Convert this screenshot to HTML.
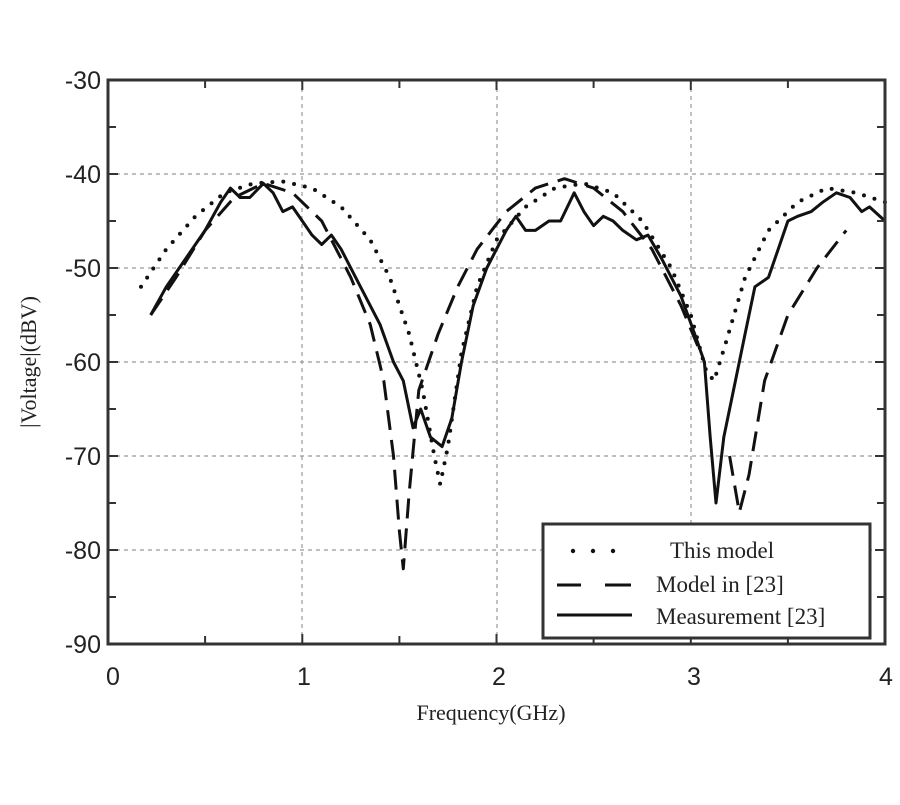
<!DOCTYPE html>
<html><head><meta charset="utf-8"><style>
body{margin:0;background:#fff;width:900px;height:800px;overflow:hidden}
.sa{font-family:"Liberation Sans",sans-serif}
.se{font-family:"Liberation Serif",serif}
</style></head><body>
<svg width="900" height="800" xmlns="http://www.w3.org/2000/svg">
<g stroke="#999" stroke-width="1.2" stroke-dasharray="4,4">
<line x1="302" y1="80" x2="302" y2="644"/><line x1="497" y1="80" x2="497" y2="644"/><line x1="691" y1="80" x2="691" y2="644"/>
<line x1="108" y1="174" x2="885" y2="174"/><line x1="108" y1="268" x2="885" y2="268"/><line x1="108" y1="362" x2="885" y2="362"/><line x1="108" y1="456" x2="885" y2="456"/><line x1="108" y1="550" x2="885" y2="550"/>
</g>
<g fill="none" stroke="#111" stroke-linejoin="round">
<polyline stroke-width="4" stroke-linecap="round" stroke-dasharray="0,11" points="141.0,286.8 166.3,249.2 195.4,216.3 224.6,192.8 253.7,183.4 282.8,181.5 312.0,188.1 341.1,206.9 370.2,239.8 389.7,277.4 409.1,333.8 422.7,390.2 434.3,456.0 440.2,484.2 447.9,446.6 461.5,352.6 477.1,286.8 496.5,239.8 525.6,206.9 554.8,188.1 583.9,183.4 613.1,192.8 642.2,221.0 671.3,268.0 690.8,315.0 706.3,371.4 714.1,380.8 725.7,343.2 745.1,277.4 768.5,230.4 797.6,202.2 826.7,188.1 855.9,192.8 885,202.2"/>
<polyline stroke-width="3" stroke-dasharray="20,10" points="150.7,315.0 176.0,277.4 205.1,230.4 234.3,197.5 263.4,183.4 292.5,192.8 321.7,221.0 350.8,277.4 370.2,324.4 383.8,380.8 393.5,456.0 399.4,531.2 403.3,568.8 409.1,493.6 418.8,390.2 438.2,333.8 457.7,286.8 477.1,249.2 506.2,211.6 535.4,188.1 564.5,178.7 593.6,188.1 622.8,211.6 651.9,249.2 681.0,305.6 700.5,352.6"/>
<polyline stroke-width="3" stroke-dasharray="20,10" points="729.6,456.0 739.3,512.4 749.0,474.8 764.6,380.8 787.9,315.0 817.0,268.0 846.2,230.4"/>
<polyline stroke-width="3" points="150.7,315.0 166.3,286.8 185.7,258.6 205.1,230.4 220.7,202.2 230.4,188.1 240.1,197.5 249.8,197.5 263.4,183.4 273.1,192.8 282.8,211.6 292.5,206.9 302.3,221.0 312.0,235.1 321.7,244.5 331.4,235.1 341.1,249.2 360.5,286.8 380.0,324.4 393.5,362.0 403.3,380.8 413.0,427.8 420.7,409.0 430.5,437.2 442.1,446.6 451.8,418.4 461.5,362.0 473.2,305.6 486.8,268.0 506.2,230.4 515.9,216.3 525.6,230.4 535.4,230.4 549.0,221.0 560.6,221.0 574.2,192.8 583.9,211.6 593.6,225.7 603.3,216.3 613.1,221.0 622.8,230.4 636.4,239.8 648.0,235.1 661.6,258.6 681.0,296.2 694.6,333.8 704.4,362.0 710.2,437.2 716.0,503.0 723.8,437.2 733.5,390.2 745.1,333.8 754.9,286.8 768.5,277.4 778.2,249.2 787.9,221.0 797.6,216.3 811.2,211.6 822.8,202.2 836.4,192.8 850.0,197.5 861.7,211.6 869.5,206.9 885,221.0"/>
</g>
<rect x="108" y="80" width="777" height="564" fill="none" stroke="#333" stroke-width="3"/>
<g stroke="#333" stroke-width="2">
<path d="M205.1,644v-8M302.3,644v-10M399.4,644v-8M496.5,644v-10M593.6,644v-8M690.8,644v-10M787.9,644v-8M205.1,80v8M302.3,80v10M399.4,80v8M496.5,80v10M593.6,80v8M690.8,80v10M787.9,80v8"/>
<path d="M108,127h8M108,174h10M108,221h8M108,268h10M108,315h8M108,362h10M108,409h8M108,456h10M108,503h8M108,550h10M108,597h8M885,127h-8M885,174h-10M885,221h-8M885,268h-10M885,315h-8M885,362h-10M885,409h-8M885,456h-10M885,503h-8M885,550h-10M885,597h-8"/>
</g>
<g class="sa" font-size="25" fill="#222" text-anchor="end">
<text x="101" y="89">-30</text><text x="101" y="183">-40</text><text x="101" y="277">-50</text><text x="101" y="371">-60</text><text x="101" y="465">-70</text><text x="101" y="559">-80</text><text x="101" y="653">-90</text>
</g>
<g class="sa" font-size="25" fill="#222" text-anchor="middle">
<text x="113" y="685">0</text><text x="304" y="685">1</text><text x="499" y="685">2</text><text x="694" y="685">3</text><text x="886" y="685">4</text>
</g>
<text class="se" x="491" y="720" font-size="22" text-anchor="middle" fill="#222">Frequency(GHz)</text>
<text class="se" transform="translate(36,362) rotate(-90)" font-size="22" text-anchor="middle" fill="#222">|Voltage|(dBV)</text>
<rect x="543" y="524" width="327" height="114" fill="#fff" stroke="#333" stroke-width="3"/>
<g fill="#111"><circle cx="573" cy="551" r="2.2"/><circle cx="593" cy="551" r="2.2"/><circle cx="613" cy="551" r="2.2"/></g>
<g stroke="#111" stroke-width="3"><line x1="557" y1="585" x2="581" y2="585"/><line x1="605" y1="585" x2="631" y2="585"/><line x1="557" y1="615" x2="632" y2="615"/></g>
<g class="se" font-size="23" fill="#222">
<text x="670" y="558">This model</text><text x="656" y="592">Model in [23]</text><text x="656" y="624">Measurement [23]</text>
</g>
</svg>
</body></html>
